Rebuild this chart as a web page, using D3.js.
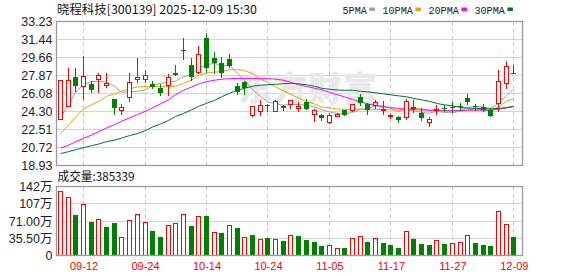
<!DOCTYPE html>
<html><head><meta charset="utf-8">
<script src="https://cdn.jsdelivr.net/npm/d3@7"></script>
<style>html,body{margin:0;padding:0;background:#fff;overflow:hidden}</style>
</head><body>
<svg id="c" width="578" height="276"></svg>
<script>
const dates = ["09-09","09-10","09-11","09-12","09-15","09-16","09-17","09-18","09-19","09-22","09-23","09-24","09-25","09-26","09-29","09-30",
"10-09","10-10","10-13","10-14","10-15","10-16","10-17","10-20","10-21","10-22","10-23","10-24","10-27","10-28","10-29","10-30","10-31",
"11-03","11-04","11-05","11-06","11-07","11-10","11-11","11-12","11-13","11-14","11-17","11-18","11-19","11-20","11-21","11-24","11-25","11-26","11-27","11-28",
"12-01","12-02","12-03","12-04","12-05","12-08","12-09"];
const open  = [23.55,24.85,27.68,26.85,26.98,27.55,26.95,25.58,24.48,25.78,27.51,27.55,26.98,26.65,26.91,28.14,
30.40,28.91,28.21,31.57,29.61,29.14,29.47,26.81,27.18,23.92,24.35,24.91,24.35,24.82,25.02,24.68,25.22,
24.09,23.92,23.29,23.88,24.42,24.42,25.75,25.02,24.95,24.42,23.85,23.72,23.75,24.62,24.15,23.25,24.45,24.65,24.75,24.85,
25.68,24.82,24.75,24.42,25.09,27.08,28.08];
const high  = [27.40,28.58,28.58,29.81,27.28,28.14,28.14,25.58,25.08,28.08,29.61,28.41,27.31,26.98,28.01,28.91,
31.57,29.57,30.81,32.07,30.21,29.67,30.01,27.15,27.35,24.88,25.42,25.02,25.42,24.92,25.48,25.22,25.52,
24.58,24.02,24.19,24.19,24.48,25.08,26.01,25.15,25.42,25.32,24.09,23.82,25.55,25.42,24.62,23.75,24.92,24.98,25.25,25.12,
26.08,25.08,25.02,24.65,28.41,29.31,28.91];
const low   = [23.50,24.85,26.35,25.55,26.25,26.25,26.75,24.05,24.05,25.32,27.25,27.18,26.61,25.91,25.91,27.88,
29.47,27.41,28.08,28.24,28.14,27.68,28.74,26.08,26.01,23.82,23.92,24.32,24.35,24.42,24.68,24.35,24.55,
23.35,23.42,23.15,23.82,23.93,24.32,24.92,24.02,24.68,24.09,23.69,23.29,23.55,24.22,23.49,22.82,24.05,24.35,24.22,24.48,
25.02,24.48,24.35,23.85,24.35,26.65,28.08];
const close = [27.38,27.38,26.85,27.78,26.41,27.88,27.08,24.65,24.78,27.18,27.71,27.88,26.75,26.15,27.74,27.94,
30.30,27.74,29.97,28.58,29.14,28.14,28.84,26.25,26.58,24.88,24.98,24.85,25.32,24.62,25.48,24.82,24.55,
24.42,23.62,23.95,24.02,23.98,25.02,25.18,24.48,25.22,24.52,23.90,23.49,25.32,24.72,23.65,23.52,24.58,24.52,24.62,24.78,
25.22,24.75,24.48,23.85,27.31,28.78,28.08];
// volume in 万
const volume = [133.6,120.5,83.5,105.8,68.9,74.5,58.5,66.8,37.6,72.4,85.0,68.2,50.1,37.6,62.0,66.2,
85.0,60.6,81.4,81.4,48.0,45.9,62.0,57.0,37.6,41.8,33.4,35.5,33.4,29.2,41.8,39.7,32.0,
27.5,19.2,21.0,14.8,15.2,35.5,39.6,27.5,35.5,25.4,21.3,15.0,50.1,33.4,23.0,20.9,31.3,23.0,25.1,27.1,
41.8,25.1,20.9,18.8,91.9,64.7,38.5];
const ma5  = [23.78,24.90,26.20,27.00,27.25,27.30,27.20,26.80,26.20,26.25,26.30,26.45,26.85,27.10,27.20,27.30,
27.75,27.95,28.65,28.90,29.10,28.80,28.90,28.10,27.40,26.45,25.80,25.25,25.05,24.92,25.00,24.98,24.92,
24.75,24.50,24.25,24.08,24.05,24.20,24.50,24.60,24.85,24.85,24.62,24.30,24.48,24.38,24.20,24.12,24.32,24.20,24.15,24.38,
24.70,24.78,24.75,24.60,25.10,25.85,26.50];
const ma10 = [22.10,22.95,23.75,24.55,24.95,25.30,25.80,26.05,26.30,26.55,26.72,26.78,26.78,26.75,26.75,26.80,
27.10,27.40,27.90,28.10,28.20,28.25,28.45,28.45,28.35,28.05,27.50,27.20,26.75,26.35,26.00,25.65,25.25,
25.05,24.75,24.65,24.55,24.50,24.50,24.55,24.45,24.50,24.50,24.45,24.40,24.55,24.60,24.55,24.40,24.35,24.35,24.25,24.30,
24.45,24.55,24.45,24.40,24.75,25.30,25.60];
const ma20 = [20.65,20.95,21.28,21.62,21.95,22.30,22.65,22.98,23.32,23.65,24.00,24.32,24.66,25.05,25.45,25.95,
26.40,26.72,27.02,27.25,27.40,27.50,27.55,27.58,27.58,27.58,27.55,27.55,27.50,27.40,27.20,26.95,26.78,
26.60,26.45,26.20,25.95,25.75,25.50,25.25,25.05,24.90,24.75,24.68,24.60,24.52,24.48,24.45,24.42,24.42,24.40,24.40,24.40,
24.42,24.42,24.42,24.42,24.50,24.65,24.82];
const ma30 = [20.12,20.30,20.50,20.70,20.90,21.05,21.30,21.45,21.65,21.90,22.10,22.40,22.75,23.05,23.40,23.80,
24.10,24.45,24.80,25.10,25.40,25.75,26.10,26.40,26.60,26.80,26.90,26.95,27.00,27.05,27.08,27.05,26.95,
26.80,26.60,26.50,26.42,26.40,26.40,26.30,26.25,26.15,26.05,25.95,25.85,25.75,25.60,25.45,25.30,25.10,24.95,24.85,24.70,
24.62,24.60,24.58,24.55,24.60,24.68,24.78];
const priceTicks = [33.23,31.44,29.66,27.87,26.08,24.30,22.51,20.72,18.93];
const priceTickLabels = ["33.23","31.44","29.66","27.87","26.08","24.30","22.51","20.72","18.93"];
const volTicks = [142,106.5,71,35.5,0];
const volTickLabels = ["142万","107万","71.00万","35.50万","0"];
const dateTicks = ["09-12","09-24","10-14","10-24","11-05","11-17","11-27","12-09"];
const maNames = ["5PMA","10PMA","20PMA","30PMA"];
const titleText = "晓程科技[300139] 2025-12-09 15:30";
const volTitle = "成交量:385339";
const watermark = "东方财富";

const RED = "#ff0000", GREEN = "#008000";
const maColors = ["#a0a0a0","#f0a000","#ff00ff","#006f30"];
const maSeries = [ma5, ma10, ma20, ma30];
const LEFT = 56.5, RIGHT = 522.5;
const P_TOP = 21.5, P_BOT = 165.5, V_TOP = 186.5, V_BOT = 255.5;

const svg = d3.select("#c");
const x = d3.scalePoint().domain(dates).range([60, 513.3]);
const cx = d => Math.round(x(d));
const yp = d3.scaleLinear().domain([18.93, 33.23]).range([P_BOT, P_TOP]);
const yv = d3.scaleLinear().domain([0, 142]).range([V_BOT, V_TOP]);

const LAB = "'Liberation Sans', 'Noto Sans CJK SC', Arial, sans-serif";

// horizontal grid
function hgrid(scale, ticks) {
  svg.append("g").selectAll("line").data(ticks.slice(1, -1)).join("line")
    .attr("x1", LEFT).attr("x2", RIGHT)
    .attr("y1", d => Math.round(scale(d) - 0.5) + 0.5).attr("y2", d => Math.round(scale(d) - 0.5) + 0.5)
    .attr("stroke", "#d4d4d4").attr("stroke-width", 1);
}
hgrid(yp, priceTicks);
hgrid(yv, volTicks);

// vertical dashed grid
[[P_TOP, P_BOT], [V_TOP, V_BOT]].forEach(([t, b]) => {
  svg.append("g").selectAll("line").data(dateTicks).join("line")
    .attr("x1", d => cx(d) + 0.5).attr("x2", d => cx(d) + 0.5)
    .attr("y1", t).attr("y2", b)
    .attr("stroke", "#c8c8c8").attr("stroke-width", 1).attr("stroke-dasharray", "4,3");
});

// watermark
svg.append("text").attr("x", 238).attr("y", 101)
  .attr("font-family", "'Noto Sans CJK SC', sans-serif").attr("font-weight", 900)
  .attr("font-size", 34).attr("fill", "#e8e8e8").attr("letter-spacing", 1)
  .text(watermark);

// MA lines
const clipId = "pclip";
svg.append("clipPath").attr("id", clipId).append("rect")
  .attr("x", LEFT).attr("y", P_TOP).attr("width", RIGHT - LEFT).attr("height", P_BOT - P_TOP);
const gMa = svg.append("g").attr("clip-path", `url(#${clipId})`);
maSeries.forEach((s, k) => {
  const line = d3.line().x((v, i) => cx(dates[i]) + 0.5).y(v => yp(v));
  gMa.append("path").attr("d", line(s)).attr("fill", "none")
    .attr("stroke", maColors[k]).attr("stroke-width", 1);
});

// candles
const gC = svg.append("g");
dates.forEach((d, i) => {
  const o = open[i], c = close[i], h = high[i], l = low[i];
  const X = cx(d);
  const yt = Math.round(yp(Math.max(o, c))), yb = Math.round(yp(Math.min(o, c)));
  const yh = Math.round(yp(h)), yl = Math.round(yp(l));
  if (c >= o) {
    if (yb - yt >= 1) {
      gC.append("rect").attr("x", X - 1.5).attr("y", yt + 0.5).attr("width", 4).attr("height", yb - yt)
        .attr("fill", "#fff").attr("stroke", RED).attr("stroke-width", 1);
    } else {
      gC.append("line").attr("x1", X - 2).attr("x2", X + 3).attr("y1", yt + 0.5).attr("y2", yt + 0.5)
        .attr("stroke", RED).attr("stroke-width", 1);
    }
    if (yh < yt) gC.append("line").attr("x1", X + 0.5).attr("x2", X + 0.5).attr("y1", yh).attr("y2", yt)
      .attr("stroke", RED).attr("stroke-width", 1);
    if (yl > yb) gC.append("line").attr("x1", X + 0.5).attr("x2", X + 0.5).attr("y1", yb + 1).attr("y2", yl + 1)
      .attr("stroke", RED).attr("stroke-width", 1);
  } else {
    gC.append("line").attr("x1", X + 0.5).attr("x2", X + 0.5).attr("y1", yh).attr("y2", yl + 1)
      .attr("stroke", GREEN).attr("stroke-width", 1);
    gC.append("rect").attr("x", X - 2).attr("y", yt).attr("width", 5).attr("height", Math.max(yb - yt, 1))
      .attr("fill", GREEN);
  }
});

// volume bars
const gV = svg.append("g");
dates.forEach((d, i) => {
  const up = i === 0 ? true : close[i] >= close[i - 1];
  const X = cx(d);
  const top = Math.round(yv(volume[i]));
  if (up) {
    gV.append("rect").attr("x", X - 1.5).attr("y", top + 0.5).attr("width", 4).attr("height", 255 - top)
      .attr("fill", "#fff").attr("stroke", RED).attr("stroke-width", 1);
  } else {
    gV.append("rect").attr("x", X - 2).attr("y", top).attr("width", 5).attr("height", 256 - top)
      .attr("fill", GREEN);
  }
});

// panel borders
[[P_TOP, P_BOT], [V_TOP, V_BOT]].forEach(([t, b]) => {
  svg.append("rect").attr("x", LEFT).attr("y", t).attr("width", RIGHT - LEFT).attr("height", b - t)
    .attr("fill", "none").attr("stroke", "#9a9a9a").attr("stroke-width", 1.3);
});

// axes
function styleAxis(g, color, size) {
  g.select(".domain").remove();
  g.selectAll(".tick line").remove();
  g.selectAll("text").attr("font-family", LAB).attr("font-size", size).attr("fill", color);
}
const ayP = svg.append("g").attr("transform", `translate(${LEFT},0)`)
  .call(d3.axisLeft(yp).tickValues(priceTicks).tickFormat((d, i) => priceTickLabels[i]).tickSize(0).tickPadding(4));
styleAxis(ayP, "#1c1c2a", 12.5);
const ayV = svg.append("g").attr("transform", `translate(${LEFT},0)`)
  .call(d3.axisLeft(yv).tickValues(volTicks).tickFormat((d, i) => volTickLabels[i]).tickSize(0).tickPadding(4));
styleAxis(ayV, "#1c1c2a", 12.5);
const ax = svg.append("g").attr("transform", `translate(0.5,${V_BOT})`)
  .call(d3.axisBottom(x).tickValues(dateTicks).tickSize(0).tickPadding(6.5));
styleAxis(ax, RED, 11);

// title
svg.append("text").attr("x", 57).attr("y", 14)
  .attr("font-family", "'Noto Sans CJK SC', sans-serif").attr("font-size", 12).attr("fill", "#111")
  .attr("textLength", 200).attr("lengthAdjust", "spacingAndGlyphs").text(titleText);

// legend
let lx = 342.5;
maNames.forEach((n, k) => {
  const w = n.length * 6.1;
  svg.append("text").attr("x", lx).attr("y", 14)
    .attr("font-family", "'Liberation Mono', monospace").attr("font-size", 11).attr("fill", "#222")
    .attr("textLength", w).attr("lengthAdjust", "spacingAndGlyphs").text(n);
  svg.append("rect").attr("x", lx + w + 2.5).attr("y", 7.5).attr("width", 5.5).attr("height", 3.5)
    .attr("fill", maColors[k]);
  lx += w + 2.5 + 5.5 + 7.5;
});

// volume title
svg.append("text").attr("x", 57.5).attr("y", 181)
  .attr("font-family", "'Noto Sans CJK SC', sans-serif").attr("font-size", 12).attr("fill", "#111")
  .attr("textLength", 77).attr("lengthAdjust", "spacingAndGlyphs").text(volTitle);
</script>
</body></html>
